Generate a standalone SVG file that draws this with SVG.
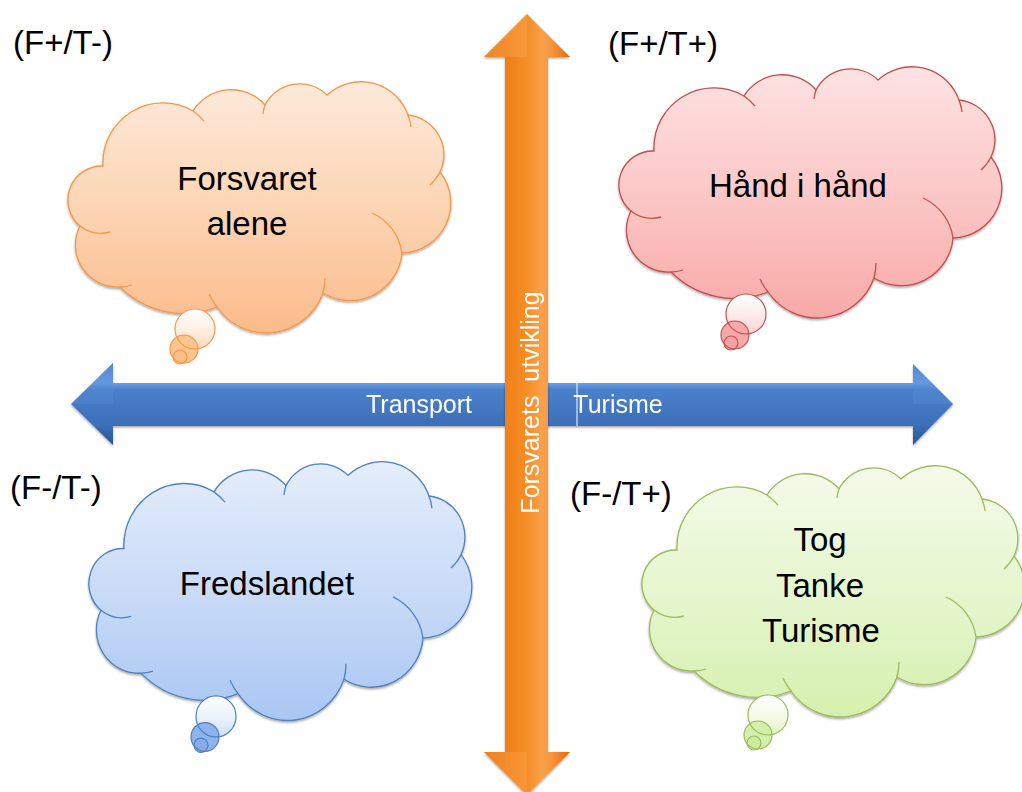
<svg xmlns="http://www.w3.org/2000/svg" xmlns:xlink="http://www.w3.org/1999/xlink" width="1022" height="792" viewBox="0 0 1022 792">
<style>
text{font-family:"Liberation Sans",Arial,sans-serif}
.quad{font-size:33px;fill:#000}
.ctext{font-size:33px;fill:#000;text-anchor:middle}
.atext{font-size:25px;fill:#fff;white-space:pre}
.tail{fill:none;stroke-width:1.3}
</style>
<defs>
<filter id="sh" x="-10%" y="-10%" width="120%" height="120%">
<feDropShadow dx="0" dy="1.5" stdDeviation="1.2" flood-color="#000" flood-opacity="0.35"/>
</filter>
<path id="cloud" d="M36,83 A60,60 0 0 1 126,28 A45,45 0 0 1 198,22 A39,39 0 0 1 260,12 A50,50 0 0 1 341,32 A40,40 0 0 1 373,89 A50,50 0 0 1 335,170 A52,52 0 0 1 256,210 A60,60 0 0 1 150,224 A90,90 0 0 1 53,204 A42,42 0 0 1 13,143 A34,34 0 0 1 36,83 Z"/>
<path id="tails" d="M126,28 A60,60 0 0 1 137,38 M198,22 A39,39 0 0 0 196,31 M341,32 A50,50 0 0 1 344,44 M373,89 A40,40 0 0 1 363,102 M305,130 A52,52 0 0 1 335,170 M258,195 A60,60 0 0 1 256,210 M150,224 A60,60 0 0 1 142,211 M53,204 A42,42 0 0 0 65,202 M13,143 A34,34 0 0 0 43,149"/>
<linearGradient id="gO" x1="0" y1="0" x2="0" y2="1"><stop offset="0" stop-color="#fdeadb"/><stop offset="0.5" stop-color="#fcd5b4"/><stop offset="1" stop-color="#fbbb8a"/></linearGradient>
<linearGradient id="gR" x1="0" y1="0" x2="0" y2="1"><stop offset="0" stop-color="#fde2e2"/><stop offset="0.5" stop-color="#fbc8c7"/><stop offset="1" stop-color="#f8a9a7"/></linearGradient>
<linearGradient id="gB" x1="0" y1="0" x2="0" y2="1"><stop offset="0" stop-color="#e4edfb"/><stop offset="0.5" stop-color="#c9dbf7"/><stop offset="1" stop-color="#a9c6f3"/></linearGradient>
<linearGradient id="gG" x1="0" y1="0" x2="0" y2="1"><stop offset="0" stop-color="#f4fae9"/><stop offset="0.5" stop-color="#e6f6cf"/><stop offset="1" stop-color="#d5f0ae"/></linearGradient>
<linearGradient id="bO" x1="0" y1="0" x2="0" y2="1"><stop offset="0" stop-color="#ffffff"/><stop offset="0.55" stop-color="#fdeee2"/><stop offset="1" stop-color="#fcd9bb"/></linearGradient>
<linearGradient id="bR" x1="0" y1="0" x2="0" y2="1"><stop offset="0" stop-color="#ffffff"/><stop offset="0.55" stop-color="#fdeaea"/><stop offset="1" stop-color="#fbcfcf"/></linearGradient>
<linearGradient id="bB" x1="0" y1="0" x2="0" y2="1"><stop offset="0" stop-color="#ffffff"/><stop offset="0.55" stop-color="#eaf1fc"/><stop offset="1" stop-color="#cddff8"/></linearGradient>
<linearGradient id="bG" x1="0" y1="0" x2="0" y2="1"><stop offset="0" stop-color="#ffffff"/><stop offset="0.55" stop-color="#f3fbe6"/><stop offset="1" stop-color="#e3f5c6"/></linearGradient>
<linearGradient id="hArrow" gradientUnits="userSpaceOnUse" x1="0" y1="363" x2="0" y2="446">
<stop offset="0" stop-color="#4d84cf"/><stop offset="0.24" stop-color="#6a9fe2"/><stop offset="0.32" stop-color="#4a80cb"/><stop offset="0.75" stop-color="#3c6fb8"/><stop offset="0.9" stop-color="#2f5d9d"/><stop offset="1" stop-color="#2a5590"/>
</linearGradient>
<linearGradient id="vArrow" gradientUnits="userSpaceOnUse" x1="484" y1="0" x2="570" y2="0">
<stop offset="0" stop-color="#e0700c"/><stop offset="0.3" stop-color="#f3821a"/><stop offset="0.5" stop-color="#f68e26"/><stop offset="0.68" stop-color="#f9a24c"/><stop offset="0.8" stop-color="#f7923a"/><stop offset="1" stop-color="#dd6a0a"/>
</linearGradient>
</defs>
<rect width="1022" height="792" fill="#fff"/>

<g id="connectors">
<g id="axis-transport-turisme" filter="url(#sh)">
<path d="M71,404 L113,363 L113,383 L913,383 L913,364 L953,404 L913,445 L913,426 L113,426 L113,445 Z" fill="url(#hArrow)"/>
<path d="M71,404 L113,363 L113,404 Z M953,404 L913,364 L913,404 Z" fill="#5a90d8" opacity="0.35"/>
<line x1="577" y1="383" x2="577" y2="426" stroke="#fff" stroke-width="1"/>
<text class="atext" x="419" y="413" text-anchor="middle">Transport</text>
<text class="atext" x="618" y="413" text-anchor="middle">Turisme</text>
</g>
<g id="axis-forsvarets-utvikling" filter="url(#sh)">
<path d="M527,14 L570,57 L548,57 L548,752 L570,752 L527,795 L484,752 L505,752 L505,57 L484,57 Z" fill="url(#vArrow)"/>
<path d="M527,14 L484,57 L527,57 Z" fill="#f9a550" opacity="0.45"/>
<path d="M527,795 L484,752 L527,752 Z" fill="#f9a550" opacity="0.35"/>
<text class="atext" transform="translate(539,402.5) rotate(-90)" text-anchor="middle">Forsvarets  utvikling</text>
</g>
</g>

<g id="quadrant-labels">
<text class="quad" x="13" y="54">(F+/T-)</text>
<text class="quad" x="608" y="55">(F+/T+)</text>
<text class="quad" x="10" y="499">(F-/T-)</text>
<text class="quad" x="570" y="505">(F-/T+)</text>
</g>

<g id="node-forsvaret-alene">
<g transform="translate(67,83)" stroke="#f79646">
<use href="#cloud" xlink:href="#cloud" fill="url(#gO)" stroke-width="1.3" filter="url(#sh)"/>
<use href="#tails" xlink:href="#tails" class="tail"/>
<circle cx="128" cy="246" r="20" fill="url(#bO)" stroke="none"/>
<circle cx="117" cy="266" r="14" fill="#fbc592" stroke="none"/>
<circle cx="113" cy="274" r="7" fill="#fbbf88" stroke="none"/>
<g fill="none" stroke-width="1.2"><circle cx="128" cy="246" r="20"/><circle cx="117" cy="266" r="14"/><circle cx="113" cy="274" r="7"/></g>
</g>
<text class="ctext" x="247" y="190">Forsvaret</text>
<text class="ctext" x="247" y="235">alene</text>
</g>

<g id="node-hand-i-hand">
<g transform="translate(618,68)" stroke="#c0504d">
<use href="#cloud" xlink:href="#cloud" fill="url(#gR)" stroke-width="1.3" filter="url(#sh)"/>
<use href="#tails" xlink:href="#tails" class="tail"/>
<circle cx="128" cy="246" r="20" fill="url(#bR)" stroke="none"/>
<circle cx="117" cy="267" r="14" fill="#f6a9a8" stroke="none"/>
<circle cx="113" cy="275" r="7" fill="#f4a3a2" stroke="none"/>
<g fill="none" stroke-width="1.2"><circle cx="128" cy="246" r="20"/><circle cx="117" cy="267" r="14"/><circle cx="113" cy="275" r="7"/></g>
</g>
<text class="ctext" x="798" y="197">Hånd i hånd</text>
</g>

<g id="node-fredslandet">
<g transform="translate(88,463) scale(1,1.03)" stroke="#4f81bd">
<use href="#cloud" xlink:href="#cloud" fill="url(#gB)" stroke-width="1.3" filter="url(#sh)"/>
<use href="#tails" xlink:href="#tails" class="tail"/>
<circle cx="128" cy="246" r="20" fill="url(#bB)" stroke="none"/>
<circle cx="117" cy="266" r="14" fill="#8fb3ec" stroke="none"/>
<circle cx="113" cy="274" r="7" fill="#86acea" stroke="none"/>
<g fill="none" stroke-width="1.2"><circle cx="128" cy="246" r="20"/><circle cx="117" cy="266" r="14"/><circle cx="113" cy="274" r="7"/></g>
</g>
<text class="ctext" x="267" y="595">Fredslandet</text>
</g>

<g id="node-tog-tanke-turisme">
<g transform="translate(641,467)" stroke="#9bbb59">
<use href="#cloud" xlink:href="#cloud" fill="url(#gG)" stroke-width="1.3" filter="url(#sh)"/>
<use href="#tails" xlink:href="#tails" class="tail"/>
<circle cx="127" cy="248" r="20" fill="url(#bG)" stroke="none"/>
<circle cx="117" cy="268" r="14" fill="#d3efab" stroke="none"/>
<circle cx="113" cy="276" r="7" fill="#cdeca0" stroke="none"/>
<g fill="none" stroke-width="1.2"><circle cx="127" cy="248" r="20"/><circle cx="117" cy="268" r="14"/><circle cx="113" cy="276" r="7"/></g>
</g>
<text class="ctext" x="820" y="551">Tog</text>
<text class="ctext" x="820" y="597">Tanke</text>
<text class="ctext" x="821" y="642">Turisme</text>
</g>
</svg>
